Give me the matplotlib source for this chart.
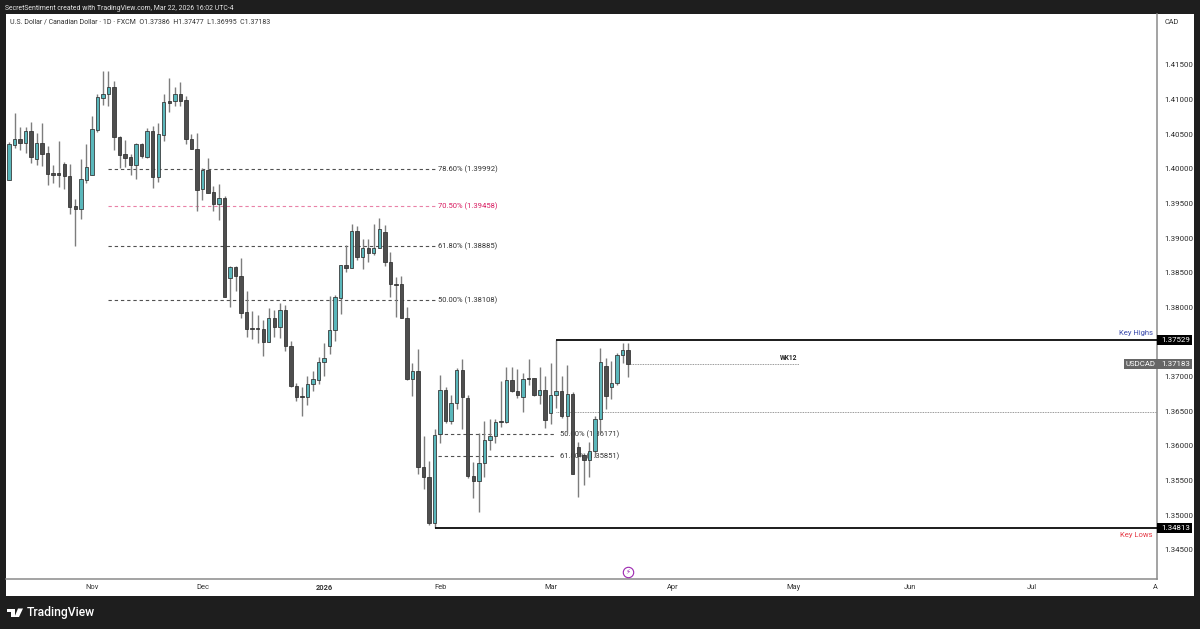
import matplotlib
matplotlib.use("Agg")
import matplotlib.pyplot as plt
from matplotlib.patches import Rectangle, Polygon

plt.rcParams['font.family'] = ['Roboto', 'DejaVu Sans']

opens = [
 1.39837,1.40342,1.40424,1.40376,1.40544,1.40135,1.40376,1.40222,1.39933,1.39933,
 1.40073,1.39900,1.39457,1.39418,1.39837,1.39909,1.40559,1.41026,1.41074,1.41175,
 1.40458,1.40212,1.40164,1.40049,1.40362,1.40174,1.40549,1.39880,1.40492,1.40973,
 1.40982,1.41074,1.40987,1.40429,1.40289,1.39707,1.39986,1.39659,1.39495,1.39572,
 1.38417,1.38576,1.38456,1.37926,1.37695,1.37695,1.37681,1.37498,1.37844,1.37710,
 1.37965,1.37435,1.36858,1.36713,1.36709,1.36887,1.36954,1.37209,1.37435,1.37671,
 1.38128,1.38605,1.38562,1.39105,1.38720,1.38855,1.38788,1.38855,1.39086,1.38648,
 1.38335,1.38331,1.37844,1.36959,1.37079,1.35693,1.35553,1.34889,1.36169,1.36805,
 1.36357,1.36612,1.37093,1.36684,1.35568,1.35496,1.35746,1.36078,1.36136,1.36362,
 1.36347,1.36944,1.36790,1.36708,1.36978,1.36978,1.36728,1.36805,1.36477,1.36728,
 1.36785,1.36424,1.36742,1.35977,1.35861,1.35789,1.35929,1.36381,1.37151,1.36853,
 1.36901,1.37305,1.37386]
closes = [
 1.40352,1.40424,1.40376,1.40544,1.40164,1.40376,1.40212,1.39924,1.39914,1.39914,
 1.39895,1.39452,1.39418,1.39847,1.40020,1.40569,1.41035,1.41084,1.41175,1.40453,
 1.40203,1.40159,1.40049,1.40362,1.40184,1.40549,1.39880,1.40496,1.40958,1.40949,
 1.41074,1.40982,1.40429,1.40289,1.39697,1.39986,1.39654,1.39495,1.39572,1.38143,
 1.38576,1.38456,1.37921,1.37681,1.37681,1.37681,1.37498,1.37844,1.37710,1.37965,
 1.37440,1.36858,1.36704,1.36704,1.36887,1.36959,1.37214,1.37272,1.37676,1.38143,
 1.38610,1.38562,1.39101,1.38720,1.38855,1.38788,1.38855,1.39134,1.38653,1.38331,
 1.38326,1.37849,1.36964,1.37079,1.35698,1.35553,1.34889,1.36155,1.36805,1.36352,
 1.36612,1.37093,1.36699,1.35563,1.35496,1.35746,1.36083,1.36136,1.36338,1.36347,
 1.36944,1.36785,1.36732,1.36968,1.36968,1.36728,1.36805,1.36376,1.36728,1.36785,
 1.36424,1.36747,1.35592,1.35852,1.35794,1.35929,1.36381,1.37204,1.36718,1.36911,
 1.37305,1.37387,1.37183]
highs = [
 1.40390,1.40809,1.40607,1.40607,1.40674,1.40511,1.40655,1.40328,1.40054,1.40395,
 1.40102,1.40063,1.39558,1.40140,1.40357,1.40761,1.41074,1.41411,1.41411,1.41266,
 1.40472,1.40415,1.40212,1.40376,1.40376,1.40583,1.40622,1.40655,1.41074,1.41315,
 1.41185,1.41247,1.41055,1.40496,1.40516,1.40005,1.40150,1.39755,1.39779,1.39601,
 1.38600,1.38595,1.38716,1.38229,1.37950,1.37888,1.37816,1.37989,1.37960,1.38056,
 1.38027,1.37508,1.36901,1.36843,1.37012,1.37084,1.37276,1.37479,1.38162,1.38177,
 1.38615,1.38894,1.39197,1.39173,1.38980,1.38980,1.39202,1.39288,1.39182,1.38793,
 1.38432,1.38451,1.37998,1.37199,1.37392,1.36145,1.35784,1.36237,1.37021,1.36853,
 1.36732,1.37118,1.37247,1.36737,1.35765,1.36179,1.36362,1.36381,1.36381,1.36935,
 1.37142,1.37142,1.37113,1.37055,1.37252,1.36983,1.37132,1.37007,1.37190,1.37529,
 1.37007,1.37166,1.36776,1.36059,1.35890,1.36059,1.36429,1.37416,1.37262,1.37228,
 1.37344,1.37478,1.37477]
lows = [
 1.39837,1.40294,1.40270,1.40222,1.40087,1.40054,1.40039,1.39765,1.39798,1.39731,
 1.39702,1.39341,1.38884,1.39274,1.39789,1.39909,1.40535,1.40920,1.40905,1.40270,
 1.40015,1.40029,1.39909,1.39851,1.40150,1.40159,1.39721,1.39813,1.40400,1.40824,
 1.40905,1.40905,1.40357,1.40285,1.39389,1.39548,1.39644,1.39389,1.39259,1.38143,
 1.38008,1.38239,1.37844,1.37575,1.37536,1.37479,1.37301,1.37498,1.37570,1.37551,
 1.37363,1.36853,1.36651,1.36429,1.36583,1.36795,1.36891,1.37007,1.37325,1.37517,
 1.37902,1.38513,1.38562,1.38682,1.38547,1.38658,1.38749,1.38855,1.38595,1.38152,
 1.37864,1.37840,1.36949,1.36723,1.35592,1.35370,1.34855,1.34813,1.36035,1.36333,
 1.36309,1.36535,1.36246,1.35539,1.35240,1.35048,1.35553,1.35938,1.36035,1.36275,
 1.36323,1.36776,1.36694,1.36492,1.36877,1.36723,1.36603,1.36251,1.36309,1.36540,
 1.36405,1.36179,1.35592,1.35264,1.35428,1.35553,1.35842,1.36179,1.36530,1.36680,
 1.36877,1.37190,1.36995]

price_ticks = [1.345,1.35,1.355,1.36,1.365,1.37,1.375,1.38,1.385,1.39,1.395,1.40,1.405,1.41,1.415]
price_hidden = [1.375]
month_pos = [15,35,57,78,98,120,142,163,185,207.4]
month_labels = ['Nov','Dec','2026','Feb','Mar','Apr','May','Jun','Jul','A']

fib_upper = [('78.60%',1.39992,'#333333'),('70.50%',1.39458,'#d81b60'),
             ('61.80%',1.38885,'#333333'),('50.00%',1.38108,'#333333')]
fib_lower = [('50.00%',1.36171),('61.80%',1.35851)]
key_high, key_low = 1.37529, 1.34813
week_level, mid_level = 1.37183, 1.36483
badge_level = 1.34177

W, H = 1200, 629
DARK = '#1e1e1e'
fig = plt.figure(figsize=(W/100, H/100), dpi=100, facecolor=DARK)

def fx(p): return p/W
def fy(p): return 1-p/H

fig.patches.append(Rectangle((fx(6), fy(596)), 1188/W, 582/H, transform=fig.transFigure,
                             fc='white', ec='none', zorder=-1))
ax = fig.add_axes([fx(6), fy(579), 1151/W, 565/H], facecolor='none')
ax.set_zorder(1)
ax.set_xlim(-0.54, 207.7)
ax.set_ylim(1.34076, 1.42235)

for s in ['top','left']:
    ax.spines[s].set_visible(False)
for s in ['right','bottom']:
    ax.spines[s].set_color('#8a8a8a')
    ax.spines[s].set_linewidth(1.1)

TICK_FS = 5.7
FIB_FS = 5.5
ax.yaxis.tick_right()
ticks = [t for t in price_ticks if t not in price_hidden]
ax.set_yticks(ticks)
ax.set_yticklabels([f'{t:.5f}' for t in ticks], fontsize=TICK_FS, color='#2a2a2a')
ax.tick_params(axis='y', length=0, pad=5)
ax.set_xticks(month_pos)
ax.set_xticklabels(month_labels, fontsize=5.4, color='#333333')
ax.tick_params(axis='x', length=0, pad=3.4)
ax.get_xticklabels()[2].set_fontweight('bold')

for name, lv, col in fib_upper:
    ax.hlines(lv, 18, 77.2, colors=col, lw=0.8, linestyles=(0,(3,2.6)), zorder=1, alpha=0.85 if col!='#d81b60' else 0.55)
    ax.text(77.7, lv, f'{name} ({lv:.5f})', fontsize=FIB_FS, color=col, va='center', ha='left', zorder=1)
for name, lv in fib_lower:
    ax.hlines(lv, 77.6, 99, colors='#333333', lw=0.8, linestyles=(0,(3,2.6)), zorder=1, alpha=0.85)
    ax.text(99.7, lv, f'{name} ({lv:.5f})', fontsize=FIB_FS, color='#333333', va='center', ha='left', zorder=1)

ax.hlines(mid_level, 99, 207.7, colors='#777777', lw=0.6, linestyles=(0,(1,1)), zorder=1)
ax.hlines(week_level, 112.5, 143, colors='#777777', lw=0.6, linestyles=(0,(1,1)), zorder=1)
ax.text(142.6, week_level+0.00085, 'WK12', fontsize=4.8, fontweight='bold', color='#222222', ha='right', va='center')

UP, DOWN = '#5ab7bb', '#4e4e4e'
for i, (o, h, l, c) in enumerate(zip(opens, highs, lows, closes)):
    up = c > o
    ax.vlines(i, l, h, colors='#7d7d7d', lw=1.0, zorder=3)
    ax.bar(i, abs(c-o), bottom=min(o, c), width=0.62, color=UP if up else DOWN,
           edgecolor='#2f2f2f', linewidth=0.55, zorder=4)

ax.hlines(key_high, 99, 207.7, colors='black', lw=1.25, zorder=5)
ax.hlines(key_low, 77, 207.7, colors='black', lw=1.25, zorder=5)
ax.text(206.9, key_high+0.00095, 'Key Highs', fontsize=5.5, color='#3949ab', ha='right', va='center')
ax.text(206.9, key_low-0.00095, 'Key Lows', fontsize=5.5, color='#e53945', ha='right', va='center')

def tag(x0, x1, yc, fc, h=10):
    fig.patches.append(Rectangle((fx(x0), fy(yc+h/2)), (x1-x0)/W, h/H, transform=fig.transFigure,
                                 fc=fc, ec='none', zorder=5))

tag(1157, 1192, 340, 'black')
tag(1157, 1192, 528, 'black')
tag(1124, 1192, 364, '#666666')
for yc, s in [(340,'1.37529'), (528,'1.34813'), (364,'1.37183')]:
    fig.text(fx(1176), fy(yc), s, color='white', fontsize=TICK_FS, ha='center', va='center', zorder=6)
fig.text(fx(1140), fy(364), 'USDCAD', color='white', fontsize=5.6, ha='center', va='center', zorder=6)
fig.text(fx(1165), fy(23), 'CAD', color='#333333', fontsize=5.3, ha='left', va='center', zorder=6)

fig.text(fx(5), fy(8), 'SecretSentiment created with TradingView.com, Mar 22, 2026 16:02 UTC-4',
         color='#e6e6e6', fontsize=4.95, ha='left', va='center')
fig.text(fx(10), fy(22.5), 'U.S. Dollar / Canadian Dollar · 1D · FXCM  O1.37386  H1.37477  L1.36995  C1.37183',
         color='#333333', fontsize=5.0, ha='left', va='center', zorder=6)

ax.plot([112], [badge_level], marker='o', ms=7.5, mfc='white', mec='#9c27b0', mew=0.8, zorder=6)
ax.text(112, badge_level, '⚡', fontsize=5, color='#9c27b0', ha='center', va='center', zorder=7, family='DejaVu Sans')

def px_poly(pts):
    fig.patches.append(Polygon([(fx(a), fy(b)) for a, b in pts], closed=True,
                               transform=fig.transFigure, fc='white', ec='none', zorder=6))
px_poly([(6.5,608.5),(15,608.5),(15,617),(10.5,617),(10.5,612),(6.5,612)])
px_poly([(18,608.5),(23,608.5),(19,617),(14.5,617)])
fig.text(fx(26.5), fy(612.5), 'TradingView', color='white', fontsize=8.7, fontweight='medium',
         ha='left', va='center', zorder=6)

fig.savefig('out.png', dpi=100, facecolor=DARK)
